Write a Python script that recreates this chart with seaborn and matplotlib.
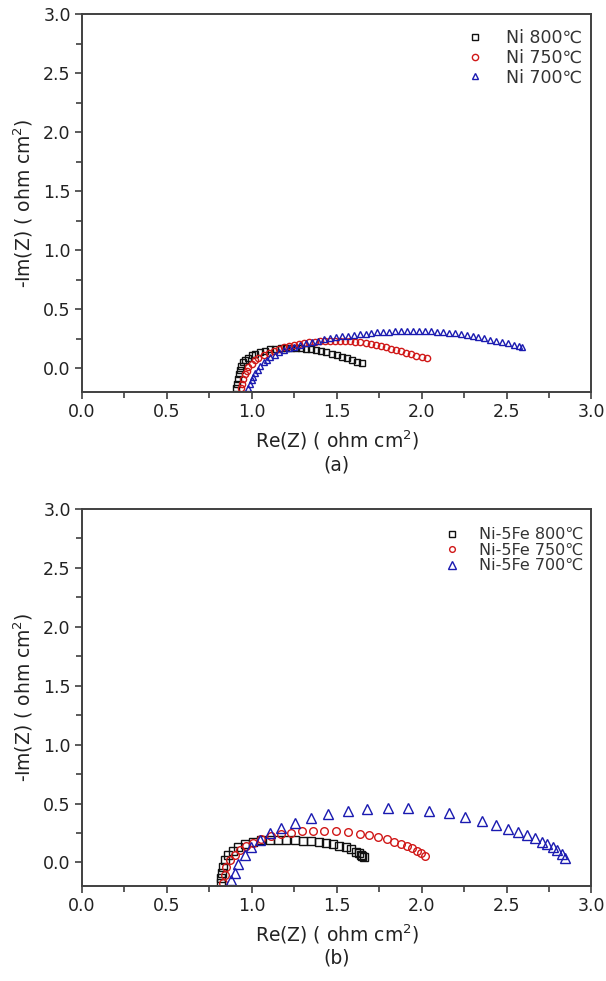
import matplotlib
matplotlib.use('Agg')
import matplotlib.pyplot as plt
import seaborn as sns
from matplotlib.ticker import MultipleLocator

# ====================================
# DATA
# ====================================

# panel (a): Ni
a800_x = [0.91, 0.915, 0.92, 0.925, 0.93, 0.94, 0.95, 0.96, 0.98, 1.00, 1.02, 1.05, 1.08, 1.11, 1.14, 1.17,
          1.20, 1.23, 1.26, 1.29, 1.32, 1.35, 1.38, 1.41, 1.44, 1.47, 1.50, 1.53, 1.56, 1.59, 1.62, 1.65]
a800_y = [-0.17, -0.13, -0.09, -0.05, -0.01, 0.02, 0.05, 0.07, 0.09, 0.11, 0.125, 0.14, 0.15, 0.16, 0.165, 0.17,
          0.172, 0.174, 0.175, 0.172, 0.168, 0.162, 0.155, 0.145, 0.135, 0.125, 0.113, 0.1, 0.087, 0.073, 0.058, 0.044]

a750_x = [0.94, 0.945, 0.95, 0.96, 0.97, 0.98, 1.00, 1.02, 1.04, 1.07, 1.10, 1.13, 1.16, 1.19, 1.22, 1.25,
          1.28, 1.31, 1.34, 1.37, 1.40, 1.43, 1.46, 1.49, 1.52, 1.55, 1.58, 1.61, 1.64, 1.67, 1.70, 1.73,
          1.76, 1.79, 1.82, 1.85, 1.88, 1.91, 1.94, 1.97, 2.00, 2.03]
a750_y = [-0.17, -0.13, -0.09, -0.05, -0.02, 0.01, 0.04, 0.07, 0.09, 0.11, 0.13, 0.15, 0.165, 0.18, 0.19, 0.2,
          0.21, 0.215, 0.22, 0.225, 0.23, 0.232, 0.234, 0.235, 0.235, 0.233, 0.23, 0.225, 0.22, 0.213, 0.205, 0.197,
          0.188, 0.178, 0.168, 0.157, 0.145, 0.133, 0.12, 0.107, 0.095, 0.084]

a700_x = [0.98, 0.99, 1.00, 1.01, 1.02, 1.035, 1.05, 1.07, 1.09, 1.11, 1.135, 1.16, 1.19, 1.22, 1.25,
          1.285, 1.32, 1.355, 1.39, 1.425, 1.46, 1.495, 1.53, 1.565, 1.60, 1.635, 1.67, 1.705, 1.74, 1.775,
          1.81, 1.845, 1.88, 1.915, 1.95, 1.985, 2.02, 2.055, 2.09, 2.125, 2.16, 2.195, 2.23, 2.265, 2.30,
          2.335, 2.37, 2.405, 2.44, 2.475, 2.51, 2.545, 2.575, 2.59]
a700_y = [-0.17, -0.13, -0.1, -0.07, -0.04, -0.01, 0.02, 0.05, 0.075, 0.095, 0.115, 0.135, 0.155, 0.17, 0.185,
          0.2, 0.212, 0.224, 0.235, 0.245, 0.254, 0.262, 0.27, 0.277, 0.284, 0.29, 0.295, 0.30, 0.304, 0.308,
          0.311, 0.314, 0.316, 0.317, 0.318, 0.318, 0.317, 0.315, 0.312, 0.308, 0.303, 0.297, 0.29, 0.282, 0.273,
          0.264, 0.254, 0.244, 0.233, 0.222, 0.211, 0.199, 0.188, 0.18]

# panel (b): Ni-5Fe
b800_x = [0.82, 0.82, 0.825, 0.83, 0.842, 0.861, 0.89, 0.92, 0.959, 1.008, 1.056, 1.105, 1.154, 1.203,
          1.252, 1.30, 1.349, 1.398, 1.437, 1.476, 1.515, 1.554, 1.584, 1.613, 1.630, 1.642, 1.652, 1.662]
b800_y = [-0.17, -0.13, -0.09, -0.036, 0.02, 0.063, 0.099, 0.128, 0.156, 0.176, 0.19, 0.19, 0.19, 0.19,
          0.19, 0.184, 0.181, 0.176, 0.167, 0.156, 0.139, 0.128, 0.111, 0.091, 0.078, 0.063, 0.053, 0.043]

b750_x = [0.83, 0.84, 0.851, 0.871, 0.90, 0.93, 0.968, 1.008, 1.056, 1.115, 1.174, 1.232, 1.295, 1.359,
          1.428, 1.496, 1.564, 1.636, 1.691, 1.746, 1.795, 1.838, 1.876, 1.912, 1.945, 1.974, 1.998, 2.019]
b750_y = [-0.17, -0.11, -0.042, 0.02, 0.063, 0.105, 0.139, 0.167, 0.196, 0.224, 0.241, 0.252, 0.264, 0.267,
          0.267, 0.264, 0.258, 0.244, 0.23, 0.213, 0.196, 0.176, 0.156, 0.139, 0.12, 0.099, 0.077, 0.054]

b700_x = [0.88, 0.90, 0.92, 0.959, 0.998, 1.047, 1.105, 1.174, 1.252, 1.349, 1.447, 1.564, 1.681, 1.803,
          1.92, 2.046, 2.164, 2.257, 2.355, 2.439, 2.511, 2.57, 2.623, 2.667, 2.706, 2.74, 2.771, 2.798,
          2.824, 2.843]
b700_y = [-0.15, -0.09, -0.014, 0.063, 0.128, 0.19, 0.247, 0.289, 0.337, 0.374, 0.411, 0.436, 0.453, 0.464,
          0.459, 0.436, 0.417, 0.388, 0.354, 0.317, 0.284, 0.255, 0.23, 0.205, 0.176, 0.154, 0.128, 0.105,
          0.071, 0.035]

labels_a = ['Ni 800℃', 'Ni 750℃', 'Ni 700℃']
labels_b = ['Ni-5Fe 800℃', 'Ni-5Fe 750℃', 'Ni-5Fe 700℃']

ticks = [0.0, 0.5, 1.0, 1.5, 2.0, 2.5, 3.0]

# ====================================
# STYLE
# ====================================

sns.set_style('ticks')
plt.rcParams['font.family'] = ['DejaVu Sans']
plt.rcParams['mathtext.fontset'] = 'dejavusans'

COLORS = ['#111111', '#d01818', '#1a1ab0']
MARKERS = ['s', 'o', '^']
SPINE = '#404040'
TEXT = '#222222'

fig = plt.figure(figsize=(6.06, 9.81), dpi=100)

ax_a = fig.add_axes([0.135, 0.6004, 0.841, 0.3853])
ax_b = fig.add_axes([0.135, 0.0968, 0.841, 0.3843])


def draw_panel(ax, series, labels, sizes, leg_size, leg_scale, leg_space, leg_pad, leg_y):
    for (x, y), lab, col, mk, ms in zip(series, labels, COLORS, MARKERS, sizes):
        sns.lineplot(x=x, y=y, ax=ax, sort=False, estimator=None,
                     linestyle='', marker=mk, markersize=ms,
                     mfc='none', mec=col, mew=1.0, color=col, label=lab)

    ax.set_xlim(0, 3.0)
    ax.set_ylim(-0.2, 3.0)
    ax.set_xticks(ticks)
    ax.set_yticks(ticks)
    ax.set_xticklabels([f'{t:.1f}' for t in ticks])
    ax.set_yticklabels([f'{t:.1f}' for t in ticks])
    ax.xaxis.set_minor_locator(MultipleLocator(0.25))
    ax.yaxis.set_minor_locator(MultipleLocator(0.25))
    ax.tick_params(which='both', direction='out', length=5, width=1.2,
                   color=SPINE, labelsize=12.5, labelcolor=TEXT, pad=3,
                   top=False, right=False)
    ax.tick_params(which='minor', length=4)

    for s in ax.spines.values():
        s.set_visible(True)
        s.set_color(SPINE)
        s.set_linewidth(1.4)

    ax.set_xlabel('Re(Z) ( ohm cm$^{2}$)', fontsize=13.5, labelpad=5, color=TEXT)
    ax.set_ylabel('-Im(Z) ( ohm cm$^{2}$)', fontsize=13.5, labelpad=6, color=TEXT)

    ax.legend(loc='upper right', bbox_to_anchor=(1.012, leg_y), frameon=False,
              fontsize=leg_size, handlelength=1.0, handletextpad=leg_pad,
              labelspacing=leg_space, markerscale=leg_scale, labelcolor='#333333')


draw_panel(ax_a, [(a800_x, a800_y), (a750_x, a750_y), (a700_x, a700_y)],
           labels_a, [4.0, 4.5, 5.0], 12.5, 1.0, 0.1, 1.3, 1.002)
draw_panel(ax_b, [(b800_x, b800_y), (b750_x, b750_y), (b700_x, b700_y)],
           labels_b, [5.5, 5.5, 7.0], 11.5, 0.75, 0.03, 1.2, 0.99)

fig.text(0.5555, 0.526, '(a)', ha='center', va='center', fontsize=13.5, color=TEXT)
fig.text(0.5555, 0.0234, '(b)', ha='center', va='center', fontsize=13.5, color=TEXT)

fig.savefig('out.png', dpi=100)
plt.close(fig)
